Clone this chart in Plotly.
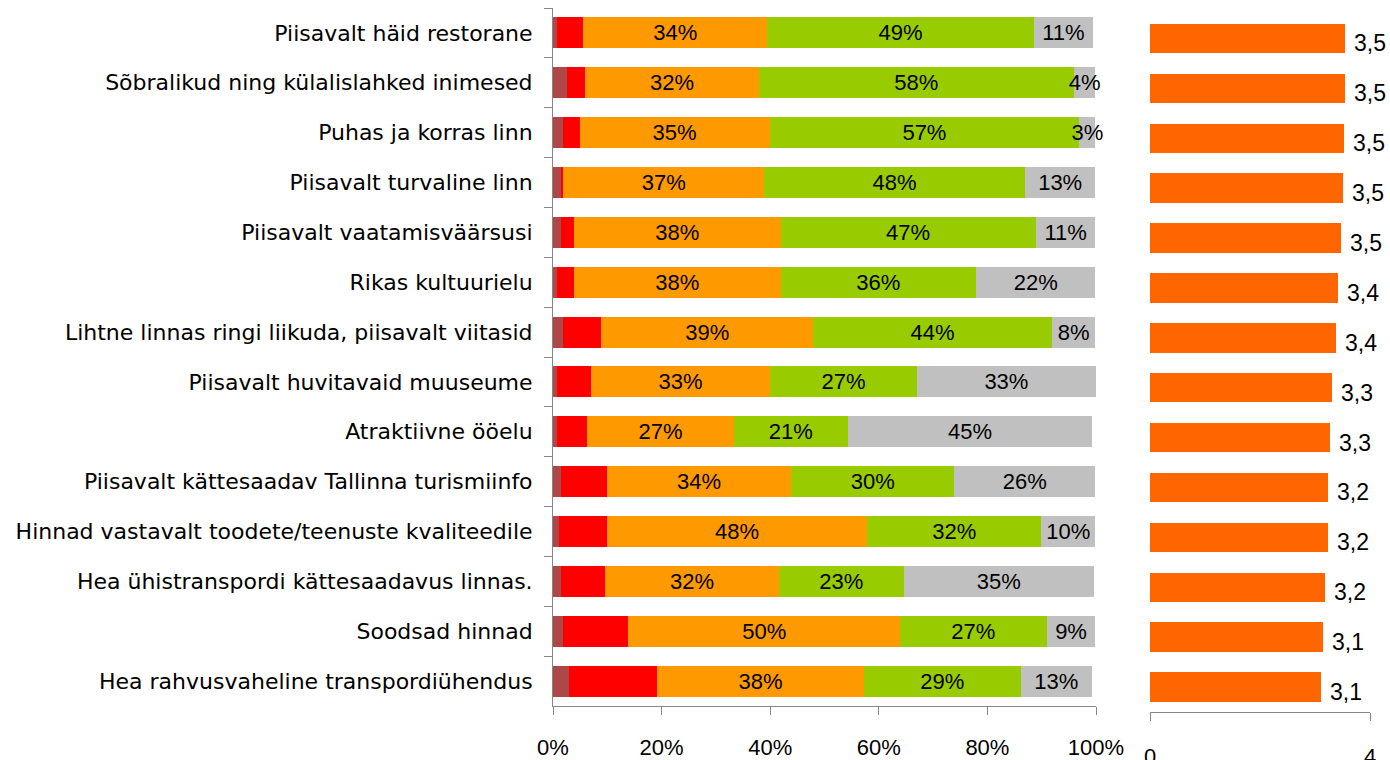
import plotly.graph_objects as go

# Statements, listed top to bottom
categories = [
    "Piisavalt häid restorane",
    "Sõbralikud ning külalislahked inimesed",
    "Puhas ja korras linn",
    "Piisavalt turvaline linn",
    "Piisavalt vaatamisväärsusi",
    "Rikas kultuurielu",
    "Lihtne linnas ringi liikuda, piisavalt viitasid",
    "Piisavalt huvitavaid muuseume",
    "Atraktiivne ööelu",
    "Piisavalt kättesaadav Tallinna turismiinfo",
    "Hinnad vastavalt toodete/teenuste kvaliteedile",
    "Hea ühistranspordi kättesaadavus linnas.",
    "Soodsad hinnad",
    "Hea rahvusvaheline transpordiühendus",
]

# Answer shares, % of respondents
share_1 = [0.7, 2.6, 1.8, 1.4, 1.5, 0.7, 1.8, 0.7, 0.7, 1.5, 1.1, 1.5, 1.8, 2.9]
share_2 = [4.8, 3.3, 3.1, 0.5, 2.4, 3.2, 7.1, 6.3, 5.6, 8.4, 8.8, 8.1, 12.1, 16.3]
share_3 = [34, 32, 35, 37, 38, 38, 39, 33, 27, 34, 48, 32, 50, 38]
share_4 = [49, 58, 57, 48, 47, 36, 44, 27, 21, 30, 32, 23, 27, 29]
share_na = [11, 4, 3, 13, 11, 22, 8, 33, 45, 26, 10, 35, 9, 13]

# Mean score on a 1..4 scale
mean_score = [3.54, 3.54, 3.52, 3.51, 3.47, 3.42, 3.38, 3.31, 3.27, 3.24, 3.23, 3.18, 3.14, 3.11]

x_ticks = [0, 20, 40, 60, 80, 100]
score_ticks = [0, 4]

AXIS_GREY = "#868686"
LABEL_FONT = dict(family="Liberation Sans, Arial, sans-serif", size=22, color="black")
CAT_FONT = dict(family="DejaVu Sans, Verdana, sans-serif", size=22, color="black")

fig = go.Figure()

stack = [
    (share_1, "#AE4848", False),
    (share_2, "#FF0000", False),
    (share_3, "#FF9900", True),
    (share_4, "#99CC00", True),
    (share_na, "#C0C0C0", True),
]
for values, color, labelled in stack:
    fig.add_trace(go.Bar(
        y=categories,
        x=values,
        orientation="h",
        marker=dict(color=color, line=dict(width=0)),
        width=0.62,
        text=[f"{v:.0f}%" for v in values] if labelled else None,
        textposition="inside" if labelled else "none",
        insidetextanchor="middle",
        textangle=0,
        constraintext="none",
        textfont=LABEL_FONT,
        cliponaxis=False,
        hoverinfo="skip",
        xaxis="x",
        yaxis="y",
    ))

# Mean score bars
fig.add_trace(go.Bar(
    y=categories,
    x=mean_score,
    orientation="h",
    marker=dict(color="#FF6600", line=dict(width=0)),
    width=0.59,
    hoverinfo="skip",
    xaxis="x2",
    yaxis="y2",
))
for cat, v in zip(categories, mean_score):
    fig.add_annotation(
        x=v, y=cat, xref="x2", yref="y2",
        text=f"{v:.1f}".replace(".", ","),
        showarrow=False, xanchor="left", yanchor="middle",
        xshift=7, yshift=-5,
        font=dict(family="Liberation Sans, Arial, sans-serif", size=23, color="black"),
    )

W, H = 1390, 760
fig.update_layout(
    width=W, height=H,
    margin=dict(l=0, r=0, t=0, b=0, autoexpand=False),
    paper_bgcolor="white",
    plot_bgcolor="white",
    barmode="stack",
    showlegend=False,
    uniformtext=dict(minsize=22, mode="show"),
    xaxis=dict(
        domain=[553 / W, 1096 / W],
        range=[0, 100],
        tickvals=x_ticks,
        ticktext=[f"{v}%" for v in x_ticks],
        showgrid=False, zeroline=False,
        showline=True, linecolor=AXIS_GREY, linewidth=1,
        ticks="outside", ticklen=8, tickcolor=AXIS_GREY,
        tickfont=LABEL_FONT,
        ticklabelstandoff=14,
        automargin=False,
        anchor="y",
    ),
    yaxis=dict(
        domain=[1 - 706 / H, 1 - 8 / H],
        autorange="reversed",
        showgrid=False,
        showline=True, linecolor=AXIS_GREY, linewidth=1,
        ticks="outside", ticklen=8, tickcolor=AXIS_GREY,
        tickson="boundaries",
        tickfont=CAT_FONT,
        ticklabelstandoff=15,
        automargin=False,
        anchor="x",
    ),
    xaxis2=dict(
        domain=[1150 / W, 1370 / W],
        range=[0, 4],
        tickvals=score_ticks,
        showgrid=False, zeroline=False,
        showline=True, linecolor=AXIS_GREY, linewidth=1,
        ticks="outside", ticklen=8, tickcolor=AXIS_GREY,
        tickfont=LABEL_FONT,
        ticklabelstandoff=17,
        automargin=False,
        anchor="y2",
    ),
    yaxis2=dict(
        domain=[1 - 712 / H, 1 - 13.5 / H],
        autorange="reversed",
        showgrid=False, showline=False,
        showticklabels=False, ticks="",
        automargin=False,
        anchor="x2",
    ),
)

fig.write_html("out.html")
